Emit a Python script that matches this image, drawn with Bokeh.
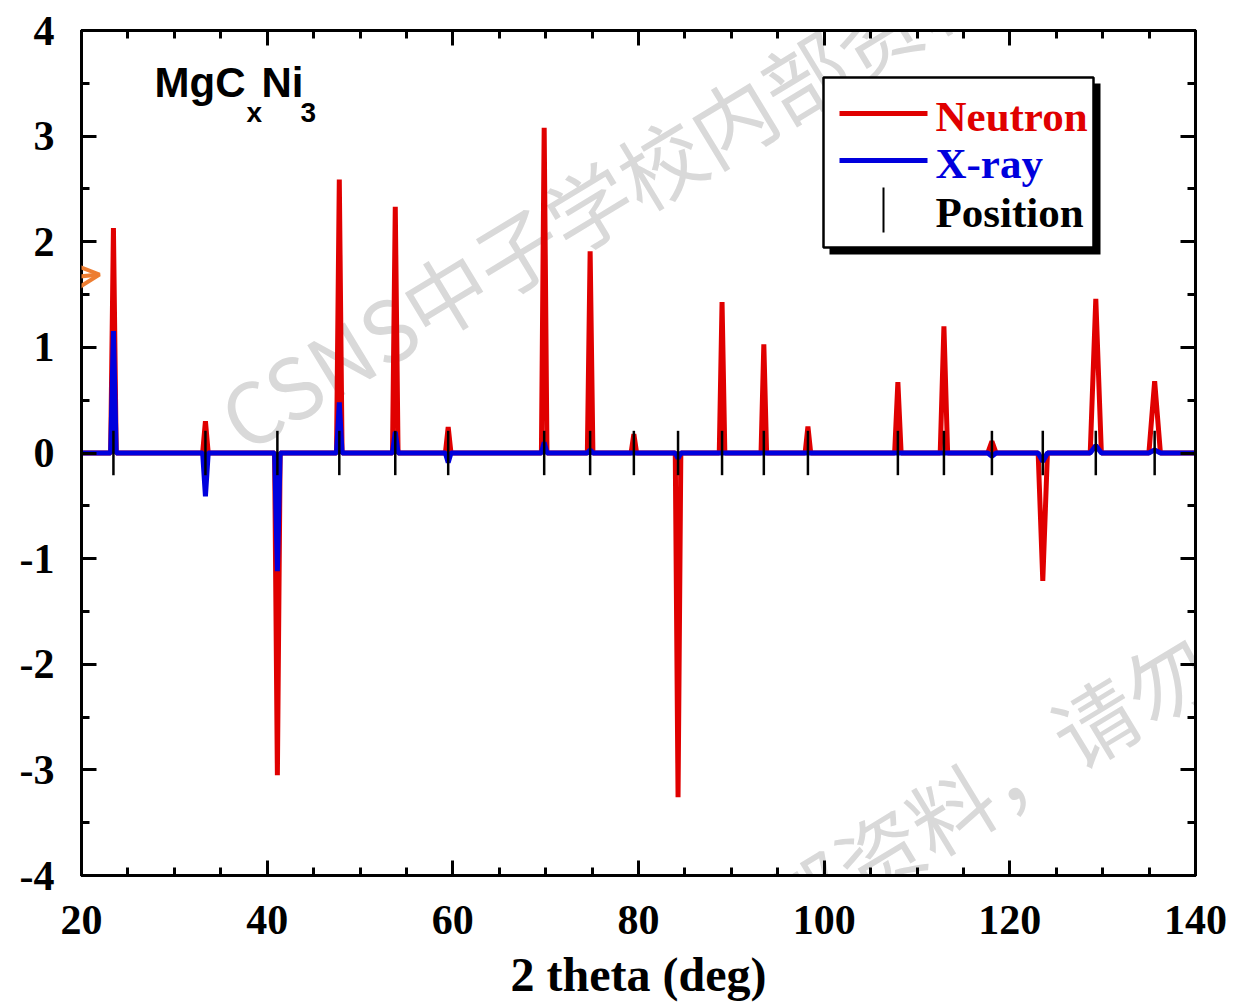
from bokeh.plotting import figure
from bokeh.models import FixedTicker, LinearAxis, Label, BoxAnnotation, Arrow, OpenHead
from bokeh.embed import file_html
from bokeh.resources import INLINE

# ---------------- data ----------------
peak_pos = [23.44, 33.35, 41.10, 47.77, 53.80, 59.50, 69.84, 74.79, 79.50, 84.26,
            89.00, 93.50, 98.25, 107.94, 112.90, 118.07, 123.55, 129.26, 135.60]
neutron_int = [2.13, 0.30, -3.05, 2.59, 2.33, 0.245, 3.08, 1.91, 0.18, -3.26,
               1.43, 1.03, 0.25, 0.67, 1.20, 0.11, -1.21, 1.46, 0.68]
xray_int = [1.155, -0.41, -1.12, 0.48, 0.20, -0.09, 0.10, 0.03, 0.0, -0.05,
            0.0, 0.0, 0.0, 0.0, 0.0, -0.03, -0.08, 0.07, 0.03]
peak_halfwidth = [0.30, 0.30, 0.30, 0.30, 0.30, 0.30, 0.30, 0.30, 0.30, 0.30,
                  0.30, 0.30, 0.30, 0.35, 0.40, 0.45, 0.50, 0.60, 0.62]
x_ticks = [20, 40, 60, 80, 100, 120, 140]
x_tick_labels = ["20", "40", "60", "80", "100", "120", "140"]
y_ticks = [-4, -3, -2, -1, 0, 1, 2, 3, 4]
y_tick_labels = ["-4", "-3", "-2", "-1", "0", "1", "2", "3", "4"]
x_min, x_max = 20, 140
y_min, y_max = -4, 4

RED = "#e00000"
BLUE = "#0000dd"
ORANGE = "#ed7d31"


def profile(heights):
    xs, ys = [x_min], [0.0]
    for c, h, w in zip(peak_pos, heights, peak_halfwidth):
        xs += [c - w, c, c + w]
        ys += [0.0, h, 0.0]
    xs.append(x_max)
    ys.append(0.0)
    return xs, ys


nx, ny = profile(neutron_int)
xx, xy = profile(xray_int)

# ---------------- layout ----------------
FL, FT, FW, FH = 81, 30, 1114, 845


def dx(px):
    return x_min + (px - FL) * (x_max - x_min) / FW


def dy(py):
    return y_max - (py - FT) * (y_max - y_min) / FH


p = figure(x_range=(x_min, x_max), y_range=(y_min, y_max),
           frame_width=FW, frame_height=FH,
           min_border_left=FL, min_border_top=FT,
           min_border_right=37, min_border_bottom=130,
           output_backend="svg", toolbar_location=None)
p.grid.visible = False
p.outline_line_color = "black"
p.outline_line_width = 3
p.background_fill_color = "white"
p.border_fill_color = "white"

x_minor = list(range(20, 141, 5))
y_minor = [v / 2 for v in range(-8, 9)]

serif = "Liberation Serif"

bottom_ax = p.xaxis[0]
left_ax = p.yaxis[0]
bottom_ax.ticker = FixedTicker(ticks=x_ticks, minor_ticks=x_minor)
bottom_ax.major_label_overrides = {t: l for t, l in zip(x_ticks, x_tick_labels)}
left_ax.ticker = FixedTicker(ticks=y_ticks, minor_ticks=y_minor)
left_ax.major_label_overrides = {t: l for t, l in zip(y_ticks, y_tick_labels)}

top_ax = LinearAxis(ticker=FixedTicker(ticks=x_ticks, minor_ticks=x_minor),
                    major_label_overrides={t: "" for t in x_ticks})
right_ax = LinearAxis(ticker=FixedTicker(ticks=y_ticks, minor_ticks=y_minor),
                      major_label_overrides={t: "" for t in y_ticks})
p.add_layout(top_ax, "above")
p.add_layout(right_ax, "right")

for ax in [bottom_ax, left_ax, top_ax, right_ax]:
    ax.axis_line_color = "black"
    ax.axis_line_width = 3
    ax.major_tick_in = 15
    ax.major_tick_out = 0
    ax.minor_tick_in = 8
    ax.minor_tick_out = 0
    ax.major_tick_line_width = 3
    ax.minor_tick_line_width = 3
    ax.major_tick_line_color = "black"
    ax.minor_tick_line_color = "black"
    ax.major_label_text_font = serif
    ax.major_label_text_font_style = "bold"
    ax.major_label_text_font_size = "42px"
    ax.major_label_text_color = "black"
top_ax.major_label_text_color = None
right_ax.major_label_text_color = None
bottom_ax.major_label_standoff = 30
left_ax.major_label_standoff = 27

bottom_ax.axis_label = "2 theta (deg)"
bottom_ax.axis_label_text_font = serif
bottom_ax.axis_label_text_font_style = "bold"
bottom_ax.axis_label_text_font_size = "48px"
bottom_ax.axis_label_text_color = "black"
bottom_ax.axis_label_standoff = 11

# ---------------- watermark (under the data) ----------------
for ax_px, ay_px in [(226, 423), (229, 1243)]:
    p.add_layout(Label(x=dx(ax_px), y=dy(ay_px), text="CSNS中子学校内部资料，请勿外传",
                       angle=0.545, text_align="left", text_baseline="middle",
                       text_font="Noto Sans CJK SC", text_font_size="84px",
                       text_color="#d9d9d9", level="underlay"))

# ---------------- data marks ----------------
p.line(nx, ny, line_color=RED, line_width=5)
p.line(xx, xy, line_color=BLUE, line_width=5)
p.segment(x0=peak_pos, y0=[-0.21] * len(peak_pos), x1=peak_pos, y1=[0.21] * len(peak_pos),
          line_color="black", line_width=2.5)

# ---------------- title ----------------
sans = "Liberation Sans"
for txt, px, py, fs in [("MgC", 154, 82, "42px"), ("x", 246, 112, "28px"),
                        ("Ni", 261, 82, "42px"), ("3", 300, 112, "28px")]:
    p.add_layout(Label(x=dx(px), y=dy(py), text=txt, text_align="left",
                       text_baseline="alphabetic", text_font=sans,
                       text_font_style="bold", text_font_size=fs, text_color="black"))

# ---------------- legend ----------------
p.add_layout(BoxAnnotation(left=dx(829), right=dx(1100), top=dy(83), bottom=dy(254),
                           fill_color="black", fill_alpha=1, line_color=None))
p.add_layout(BoxAnnotation(left=dx(823), right=dx(1093), top=dy(77), bottom=dy(247),
                           fill_color="white", fill_alpha=1, line_color="black",
                           line_alpha=1, line_width=2.5))
p.add_layout(Arrow(x_start=dx(839), y_start=dy(113), x_end=dx(927), y_end=dy(113),
                   start=None, end=None, line_color=RED, line_width=5))
p.add_layout(Arrow(x_start=dx(839), y_start=dy(160), x_end=dx(927), y_end=dy(160),
                   start=None, end=None, line_color=BLUE, line_width=5))
p.add_layout(Arrow(x_start=dx(883), y_start=dy(187), x_end=dx(883), y_end=dy(232),
                   start=None, end=None, line_color="black", line_width=2))
for txt, py, col in [("Neutron", 116, RED), ("X-ray", 163, BLUE), ("Position", 212, "black")]:
    p.add_layout(Label(x=dx(935), y=dy(py), text=txt, text_align="left",
                       text_baseline="alphabetic", text_font=serif,
                       text_font_style="bold", text_font_size="43px", text_color=col))

# ---------------- orange arrow ----------------
p.add_layout(Arrow(x_start=dx(0), y_start=dy(284), x_end=dx(99), y_end=dy(274),
                   end=OpenHead(size=27, line_color=ORANGE, line_width=4),
                   line_color=ORANGE, line_width=4))

open("out.html", "w").write(file_html(p, INLINE))
